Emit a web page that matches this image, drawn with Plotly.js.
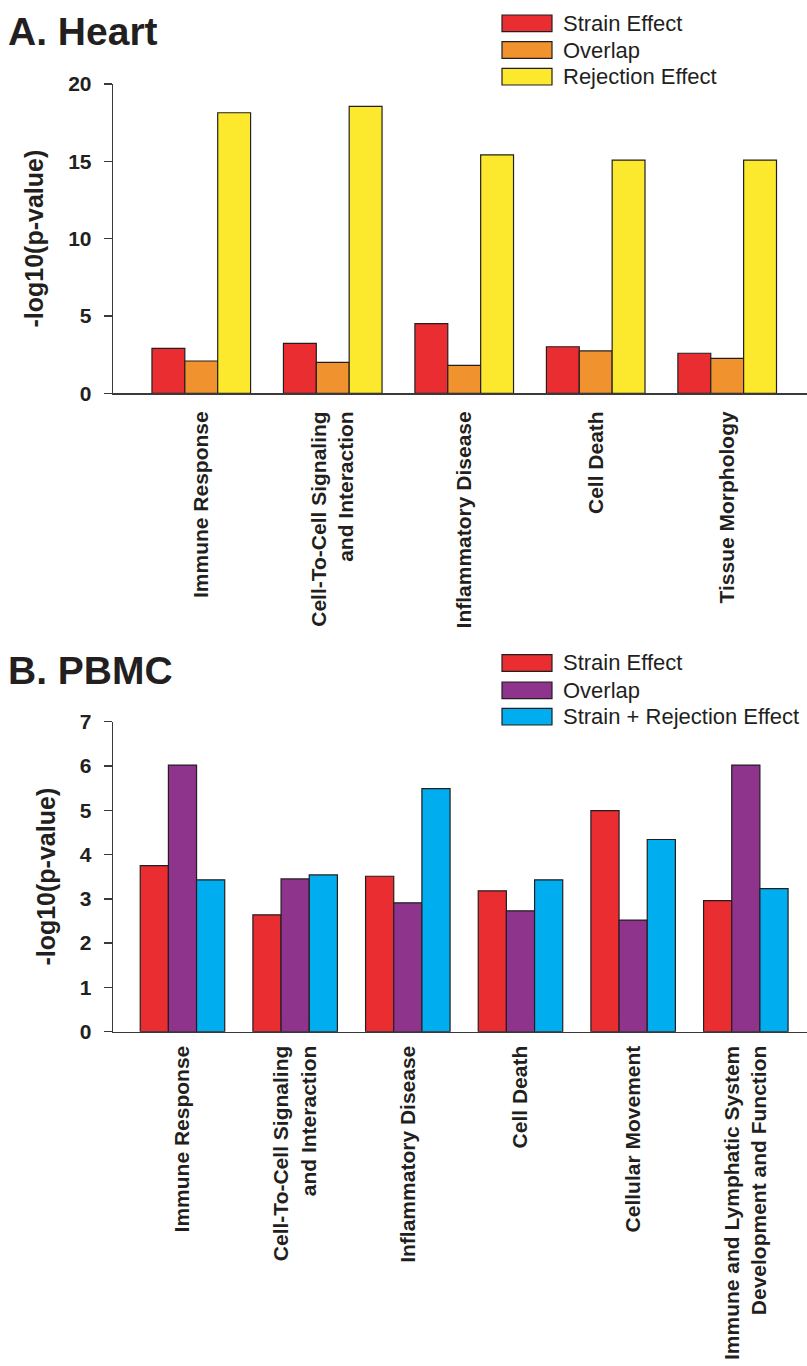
<!DOCTYPE html>
<html>
<head>
<meta charset="utf-8">
<script src="https://cdn.plot.ly/plotly-3.0.1.min.js"></script>
<style>html,body{margin:0;padding:0;background:#fff;}#chart{width:807px;height:1366px;}</style>
</head>
<body>
<div id="chart"></div>
<script>
// ---- Panel A: Heart ----
const heartCategories = ["Immune Response", "Cell-To-Cell Signaling<br>and Interaction", "Inflammatory Disease", "Cell Death", "Tissue Morphology"];
const heartStrain = [2.91, 3.23, 4.50, 3.01, 2.59];
const heartOverlap = [2.09, 2.00, 1.81, 2.74, 2.26];
const heartRejection = [18.14, 18.55, 15.42, 15.08, 15.08];
const heartSeriesNames = ["Strain Effect", "Overlap", "Rejection Effect"];
const heartTickVals = [0, 5, 10, 15, 20];

// ---- Panel B: PBMC ----
const pbmcCategories = ["Immune Response", "Cell-To-Cell Signaling<br>and Interaction", "Inflammatory Disease", "Cell Death", "Cellular Movement", "Immune and Lymphatic System<br>Development and Function"];
const pbmcStrain = [3.75, 2.64, 3.51, 3.18, 4.99, 2.96];
const pbmcOverlap = [6.02, 3.45, 2.91, 2.73, 2.52, 6.02];
const pbmcStrainRejection = [3.43, 3.54, 5.49, 3.43, 4.34, 3.23];
const pbmcSeriesNames = ["Strain Effect", "Overlap", "Strain + Rejection Effect"];
const pbmcTickVals = [0, 1, 2, 3, 4, 5, 6, 7];

const titles = ["A. Heart", "B. PBMC"];
const yTitle = "-log10(p-value)";

const W = 807, H = 1366;
const FONT = "Liberation Sans, Arial, Helvetica, sans-serif";
const INK = "#231f20";
const heartColors = ["#e92d30", "#f0932f", "#fce92d"];
const pbmcColors = ["#e92d30", "#8e348c", "#00adef"];
const outline = {color: INK, width: 1.2};

function bars(cats, vals, name, color, xa, ya) {
  return {type: "bar", x: cats, y: vals, name: name, xaxis: xa, yaxis: ya,
          marker: {color: color, line: outline}, showlegend: false, hoverinfo: "x+y"};
}

const data = [
  bars(heartCategories, heartStrain, heartSeriesNames[0], heartColors[0], "x", "y"),
  bars(heartCategories, heartOverlap, heartSeriesNames[1], heartColors[1], "x", "y"),
  bars(heartCategories, heartRejection, heartSeriesNames[2], heartColors[2], "x", "y"),
  bars(pbmcCategories, pbmcStrain, pbmcSeriesNames[0], pbmcColors[0], "x2", "y2"),
  bars(pbmcCategories, pbmcOverlap, pbmcSeriesNames[1], pbmcColors[1], "x2", "y2"),
  bars(pbmcCategories, pbmcStrainRejection, pbmcSeriesNames[2], pbmcColors[2], "x2", "y2")
];

const px = v => v / W;
const py = v => 1 - v / H;

const xCommon = {
  showline: true, linecolor: "#3a3a3a", linewidth: 1.6, ticks: "", showgrid: false, zeroline: false,
  tickangle: -90, tickfont: {family: FONT, size: 21, color: INK, weight: 700},
  domain: [px(113.3), 1], fixedrange: true
};
const yCommon = {
  showline: true, linecolor: "#3a3a3a", linewidth: 1.6, ticks: "outside", ticklen: 8, tickwidth: 1.4,
  tickcolor: "#3a3a3a", showgrid: false, zeroline: false, ticklabelstandoff: 8,
  tickfont: {family: FONT, size: 21, color: INK, weight: 700},
  title: {text: yTitle, standoff: 17, font: {family: FONT, size: 25, color: INK, weight: 700}},
  fixedrange: true
};

const shapes = [];
const annotations = [];

function addLegend(names, colors, centers) {
  names.forEach((n, i) => {
    shapes.push({type: "rect", xref: "paper", yref: "paper",
      x0: px(502), x1: px(552), y0: py(centers[i] + 8.3), y1: py(centers[i] - 8.3),
      fillcolor: colors[i], line: {color: INK, width: 1.2}});
    annotations.push({xref: "paper", yref: "paper", x: px(561), y: py(centers[i]),
      xanchor: "left", yanchor: "middle", showarrow: false, text: n,
      font: {family: FONT, size: 22, color: INK}});
  });
}
addLegend(heartSeriesNames, heartColors, [23.3, 50, 76.7]);
addLegend(pbmcSeriesNames, pbmcColors, [663, 690.3, 716.7]);

annotations.push({xref: "paper", yref: "paper", x: px(6), y: py(31), xanchor: "left", yanchor: "middle",
  showarrow: false, text: titles[0], font: {family: FONT, size: 39, color: INK, weight: 700}});
annotations.push({xref: "paper", yref: "paper", x: px(6), y: py(670), xanchor: "left", yanchor: "middle",
  showarrow: false, text: titles[1], font: {family: FONT, size: 39, color: INK, weight: 700}});

const layout = {
  width: W, height: H,
  margin: {l: 0, r: 0, t: 0, b: 0},
  paper_bgcolor: "#ffffff", plot_bgcolor: "#ffffff",
  barmode: "group", bargap: 0.25, bargroupgap: 0,
  showlegend: false,
  font: {family: FONT, color: INK},
  xaxis: Object.assign({}, xCommon, {anchor: "y", range: [-0.669, 4.607], ticklabelstandoff: 8}),
  yaxis: Object.assign({}, yCommon, {anchor: "x", domain: [py(393.3), py(84)], range: [0, 20], tickvals: heartTickVals}),
  xaxis2: Object.assign({}, xCommon, {anchor: "y2", range: [-0.614, 5.543], ticklabelstandoff: 4}),
  yaxis2: Object.assign({}, yCommon, {anchor: "x2", domain: [py(1031.7), py(721.7)], range: [0, 7], tickvals: pbmcTickVals}),
  shapes: shapes,
  annotations: annotations
};

Plotly.newPlot("chart", data, layout, {displayModeBar: false, staticPlot: true});
</script>
</body>
</html>
